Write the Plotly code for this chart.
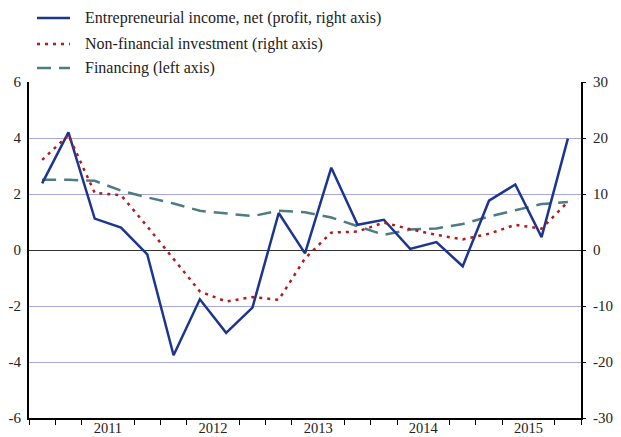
import plotly.graph_objects as go

quarters = ["2010Q4", "2011Q1", "2011Q2", "2011Q3", "2011Q4",
            "2012Q1", "2012Q2", "2012Q3", "2012Q4",
            "2013Q1", "2013Q2", "2013Q3", "2013Q4",
            "2014Q1", "2014Q2", "2014Q3", "2014Q4",
            "2015Q1", "2015Q2", "2015Q3", "2015Q4"]
year_labels = ["2011", "2012", "2013", "2014", "2015"]

left_ticks = [-6, -4, -2, 0, 2, 4, 6]
left_tick_text = ["-6", "-4", "-2", "0", "2", "4", "6"]
right_ticks = [-30, -20, -10, 0, 10, 20, 30]
right_tick_text = ["-30", "-20", "-10", "0", "10", "20", "30"]

income = [11.9, 21.0, 5.6, 4.0, -0.8, -18.8, -8.8, -14.8, -10.3, 6.6, -0.6,
          14.7, 4.5, 5.4, 0.2, 1.4, -2.9, 8.8, 11.7, 2.3, 19.9]
investment = [16.1, 20.5, 10.2, 9.8, 4.2, -1.7, -7.4, -9.2, -8.4, -8.9, -1.5,
              3.1, 3.3, 4.9, 3.7, 2.7, 1.9, 2.9, 4.5, 3.8, 8.6]
financing = [2.51, 2.51, 2.47, 2.12, 1.88, 1.66, 1.40, 1.30, 1.21, 1.40, 1.35,
             1.16, 0.85, 0.54, 0.73, 0.77, 0.93, 1.19, 1.42, 1.64, 1.71]

series_names = ["Entrepreneurial income, net (profit, right axis)",
                "Non-financial investment (right axis)",
                "Financing (left axis)"]

x = list(range(len(quarters)))
# year label at the middle of each year (between Q2 and Q3)
year_pos = [quarters.index(y + "Q3") - 0.5 for y in year_labels]
boundaries = [i - 0.5 for i in range(len(quarters) + 1)]
minor_ticks = [b for b in boundaries if b not in year_pos]

FONT = "Liberation Serif"
BLUE = "#1c3690"
RED = "#b01c1c"
GREEN = "#4d7c82"
styles = [dict(color=BLUE, width=2.5),
          dict(color=RED, width=2.5, dash="3px,5px"),
          dict(color=GREEN, width=2.5, dash="14px,8px")]

fig = go.Figure()
fig.add_trace(go.Scatter(x=x, y=income, yaxis="y2", mode="lines",
                         name=series_names[0], line=styles[0]))
fig.add_trace(go.Scatter(x=x, y=investment, yaxis="y2", mode="lines",
                         name=series_names[1], line=styles[1]))
fig.add_trace(go.Scatter(x=x, y=financing, yaxis="y", mode="lines",
                         name=series_names[2], line=styles[2]))

# legend drawn above the plot area (plot area is 552 x 336 px)
PW, PH = 552.0, 336.0
rows_above_top = [64, 38, 14]   # px above the plot's top edge
for name, st, dy in zip(series_names, styles, rows_above_top):
    yy = 1 + dy / PH
    fig.add_shape(type="line", xref="paper", yref="paper",
                  x0=8 / PW, x1=41 / PW, y0=yy, y1=yy,
                  line=dict(color=st["color"], width=2.5, dash=st.get("dash", "solid")))
    fig.add_annotation(xref="paper", yref="paper", x=54 / PW, y=yy,
                       xanchor="left", yanchor="middle", showarrow=False,
                       text=name, font=dict(family=FONT, size=16, color="#222"))

# the page body has an 8px margin: figure is 8px smaller, margins compensated
fig.update_layout(
    width=613, height=429,
    margin=dict(l=21, r=40, t=74, b=19, autoexpand=False),
    paper_bgcolor="white", plot_bgcolor="white",
    font=dict(family=FONT, size=15, color="#222"),
    showlegend=False,
    xaxis=dict(range=[-0.5, len(quarters) - 0.5], showgrid=False, zeroline=False,
               tickmode="array", tickvals=year_pos, ticktext=year_labels,
               ticks="", ticklen=0, ticklabelstandoff=-4,
               showline=True, linecolor="black", linewidth=2,
               automargin=False,
               tickfont=dict(family=FONT, size=14.5, color="#222"),
               minor=dict(tickmode="array", tickvals=minor_ticks, ticks="outside",
                          ticklen=5, tickwidth=1, tickcolor="black", showgrid=False)),
    yaxis=dict(range=[-6, 6], tickmode="array", tickvals=left_ticks,
               ticktext=left_tick_text, showgrid=True, gridcolor="#a6a8dc",
               gridwidth=1, zeroline=True, zerolinecolor="#333", zerolinewidth=1,
               showline=True, linecolor="black", linewidth=2, automargin=False,
               ticks="", ticklen=0, ticklabelstandoff=3,
               tickfont=dict(family=FONT, size=15, color="#222")),
    yaxis2=dict(range=[-30, 30], tickmode="array", tickvals=right_ticks,
                ticktext=right_tick_text, overlaying="y", side="right",
                showgrid=False, zeroline=False, showline=True, linecolor="black",
                linewidth=2, ticks="outside", ticklen=3, tickcolor="black",
                ticklabelstandoff=4, automargin=False,
                tickfont=dict(family=FONT, size=15, color="#222")),
)

fig.write_html("out.html")
